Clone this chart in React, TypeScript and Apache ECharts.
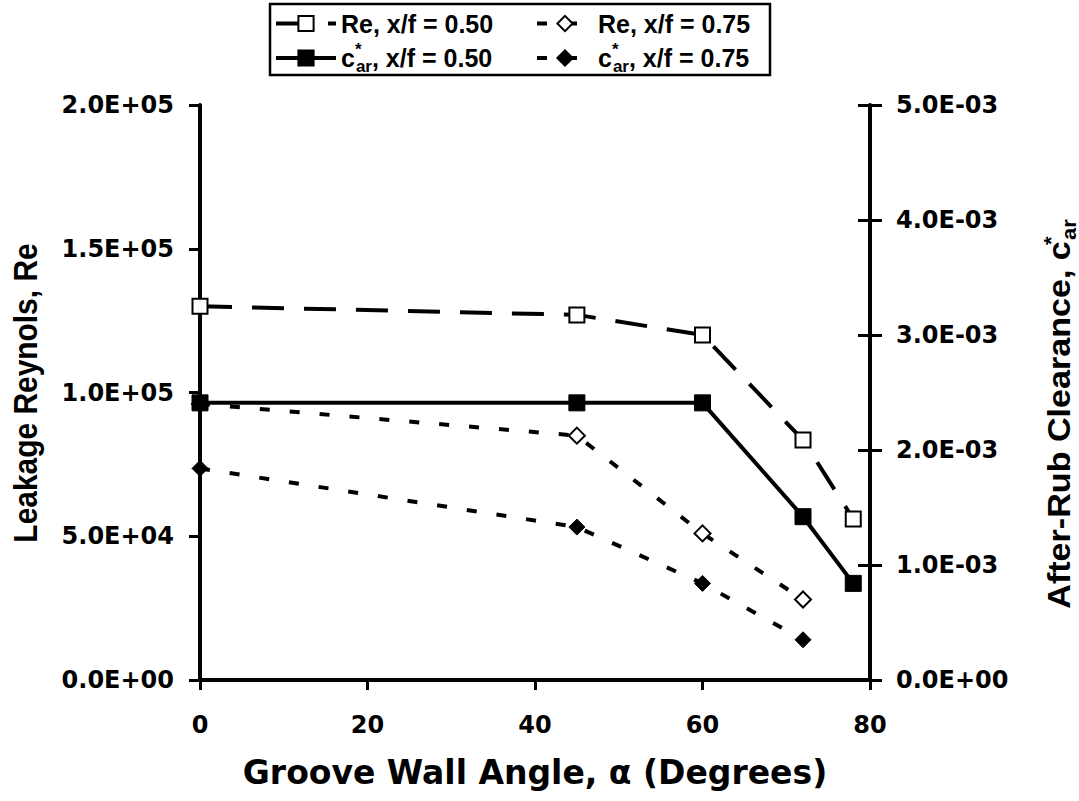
import React, { useEffect, useRef } from "react";
import * as echarts from "echarts";

// ---- data ----
const angles050 = [0, 45, 60, 72, 78];
const angles075 = [0, 45, 60, 72];
const re050 = [130000, 127000, 120000, 83500, 56000];
const re075 = [96000, 85000, 51000, 28000];
const car050 = [0.00241, 0.00241, 0.00241, 0.00142, 0.00084];
const car075 = [0.00184, 0.00133, 0.00084, 0.00035];

const xMin = 0, xMax = 80, xStep = 20;
const reMin = 0, reMax = 200000, reStep = 50000;
const carMin = 0, carMax = 0.005, carStep = 0.001;

const seriesNames = ["Re050", "Re075", "car050", "car075"];
const legendLabels: Record<string, string> = {
  Re050: "{t|Re, x/f = 0.50}",
  Re075: "{t|Re, x/f = 0.75}",
  car050: "{t|c}{sup|*}{sub|ar}{t|, x/f = 0.50}",
  car075: "{t|c}{sup|*}{sub|ar}{t|, x/f = 0.75}",
};
const xTitle = "Groove Wall Angle, α (Degrees)";
const leftTitle = "Leakage Reynols, Re";
const rightTitle = "After-Rub Clearance, c{sup|*}{sub|ar}";

const FW = "DejaVu Sans";
const FA = "Liberation Sans";

function fmtExp(v: number) {
  const s = Number(v).toExponential(1);
  const [m, e] = s.split("e");
  const n = parseInt(e, 10);
  return `${m}E${n < 0 ? "-" : "+"}${String(Math.abs(n)).padStart(2, "0")}`;
}

const pair = (xs: number[], ys: number[]) => xs.map((x, i) => [x, ys[i]]);

const legendRich = {
  t: { fontFamily: FA, fontWeight: "bold", fontSize: 25, color: "#000", lineHeight: 34, verticalAlign: "middle" },
  sup: { fontFamily: FA, fontWeight: "bold", fontSize: 17, color: "#000", lineHeight: 17, verticalAlign: "top", width: 1 },
  sub: { fontFamily: FA, fontWeight: "bold", fontSize: 17, color: "#000", lineHeight: 17, verticalAlign: "bottom" },
};

const makeLegend = (name: string, left: number, top: number, w: number) => ({
  data: [name],
  left,
  top,
  orient: "horizontal",
  itemWidth: w,
  itemHeight: 19,
  padding: 0,
  selectedMode: false,
  lineStyle: { width: 4 },
  formatter: (n: string) => legendLabels[n],
  textStyle: { rich: legendRich, color: "#000" },
});

const tickLabel = { color: "#000", fontFamily: FW, fontWeight: "bold", fontSize: 24 };

export default function App() {
  const ref = useRef<HTMLDivElement>(null);
  useEffect(() => {
    if (!ref.current) return;
    const chart = echarts.init(ref.current, undefined, { renderer: "svg" });
    chart.setOption({
      animation: false,
      backgroundColor: "#fff",
      grid: { left: 200, top: 105, width: 670, height: 575, containLabel: false },
      graphic: [
        {
          type: "rect",
          shape: { x: 270, y: 4, width: 500, height: 71 },
          style: { fill: "none", stroke: "#000", lineWidth: 2.5 },
          z: 10,
        },
        {
          type: "text",
          x: 25,
          y: 393,
          rotation: Math.PI / 2,
          scaleX: 0.88,
          style: {
            text: leftTitle,
            fontFamily: FA,
            fontWeight: "bold",
            fontSize: 34,
            fill: "#000",
            align: "center",
            verticalAlign: "middle",
          },
        },
        {
          type: "text",
          x: 1060,
          y: 414,
          rotation: Math.PI / 2,
          scaleX: 1.1,
          style: {
            text: rightTitle,
            fontFamily: FA,
            fontWeight: "bold",
            fontSize: 31,
            fill: "#000",
            align: "center",
            verticalAlign: "middle",
            lineHeight: 38,
            rich: {
              sup: { fontFamily: FA, fontWeight: "bold", fontSize: 20, fill: "#000", lineHeight: 20, verticalAlign: "top", width: 1 },
              sub: { fontFamily: FA, fontWeight: "bold", fontSize: 20, fill: "#000", lineHeight: 20, verticalAlign: "bottom" },
            },
          },
        },
      ],
      legend: [
        makeLegend("Re050", 274, 11, 60),
        makeLegend("Re075", 535, 11, 56),
        makeLegend("car050", 274, 41, 60),
        makeLegend("car075", 535, 41, 56),
      ],
      xAxis: {
        type: "value",
        min: xMin,
        max: xMax,
        interval: xStep,
        name: xTitle,
        nameLocation: "middle",
        nameGap: 76,
        nameTextStyle: { color: "#000", fontFamily: FW, fontWeight: "bold", fontSize: 33 },
        axisLine: { show: true, lineStyle: { color: "#000", width: 4 } },
        axisTick: { show: true, length: 10, lineStyle: { color: "#000", width: 3 } },
        axisLabel: { ...tickLabel, margin: 33 },
        splitLine: { show: false },
      },
      yAxis: [
        {
          type: "value",
          position: "left",
          min: reMin,
          max: reMax,
          interval: reStep,
          axisLine: { show: true, lineStyle: { color: "#000", width: 4 } },
          axisTick: { show: true, length: 11, lineStyle: { color: "#000", width: 3 } },
          axisLabel: { ...tickLabel, margin: 26, formatter: fmtExp },
          splitLine: { show: false },
        },
        {
          type: "value",
          position: "right",
          min: carMin,
          max: carMax,
          interval: carStep,
          axisLine: { show: true, lineStyle: { color: "#000", width: 4 } },
          axisTick: { show: true, length: 12, lineStyle: { color: "#000", width: 3 } },
          axisLabel: { ...tickLabel, margin: 26, formatter: fmtExp },
          splitLine: { show: false },
        },
        {
          type: "value",
          position: "right",
          min: carMin,
          max: carMax,
          interval: carStep,
          axisLine: { show: false },
          axisTick: { show: true, inside: true, length: 12, lineStyle: { color: "#000", width: 3 } },
          axisLabel: { show: false },
          splitLine: { show: false },
        },
      ],
      series: [
        {
          name: seriesNames[0],
          type: "line",
          yAxisIndex: 0,
          data: pair(angles050, re050),
          symbol: "rect",
          symbolSize: 15,
          itemStyle: { color: "#fff", borderColor: "#000", borderWidth: 2 },
          lineStyle: { color: "#000", width: 4, type: [32, 20] },
          z: 2,
        },
        {
          name: seriesNames[1],
          type: "line",
          yAxisIndex: 0,
          data: pair(angles075, re075),
          symbol: "diamond",
          symbolSize: 16,
          itemStyle: { color: "#fff", borderColor: "#000", borderWidth: 2 },
          lineStyle: { color: "#000", width: 4, type: [10, 20] },
          z: 2,
        },
        {
          name: seriesNames[3],
          type: "line",
          yAxisIndex: 1,
          data: pair(angles075, car075),
          symbol: "diamond",
          symbolSize: 16,
          itemStyle: { color: "#000", borderColor: "#000", borderWidth: 1 },
          lineStyle: { color: "#000", width: 4, type: [10, 20] },
          z: 3,
        },
        {
          name: seriesNames[2],
          type: "line",
          yAxisIndex: 1,
          data: pair(angles050, car050),
          symbol: "rect",
          symbolSize: 16,
          itemStyle: { color: "#000", borderColor: "#000", borderWidth: 1 },
          lineStyle: { color: "#000", width: 4, type: "solid" },
          z: 4,
        },
      ],
    });
    return () => chart.dispose();
  }, []);
  return (
    <div
      ref={ref}
      style={{ position: "fixed", left: 0, top: 0, width: 1079, height: 801 }}
    />
  );
}
